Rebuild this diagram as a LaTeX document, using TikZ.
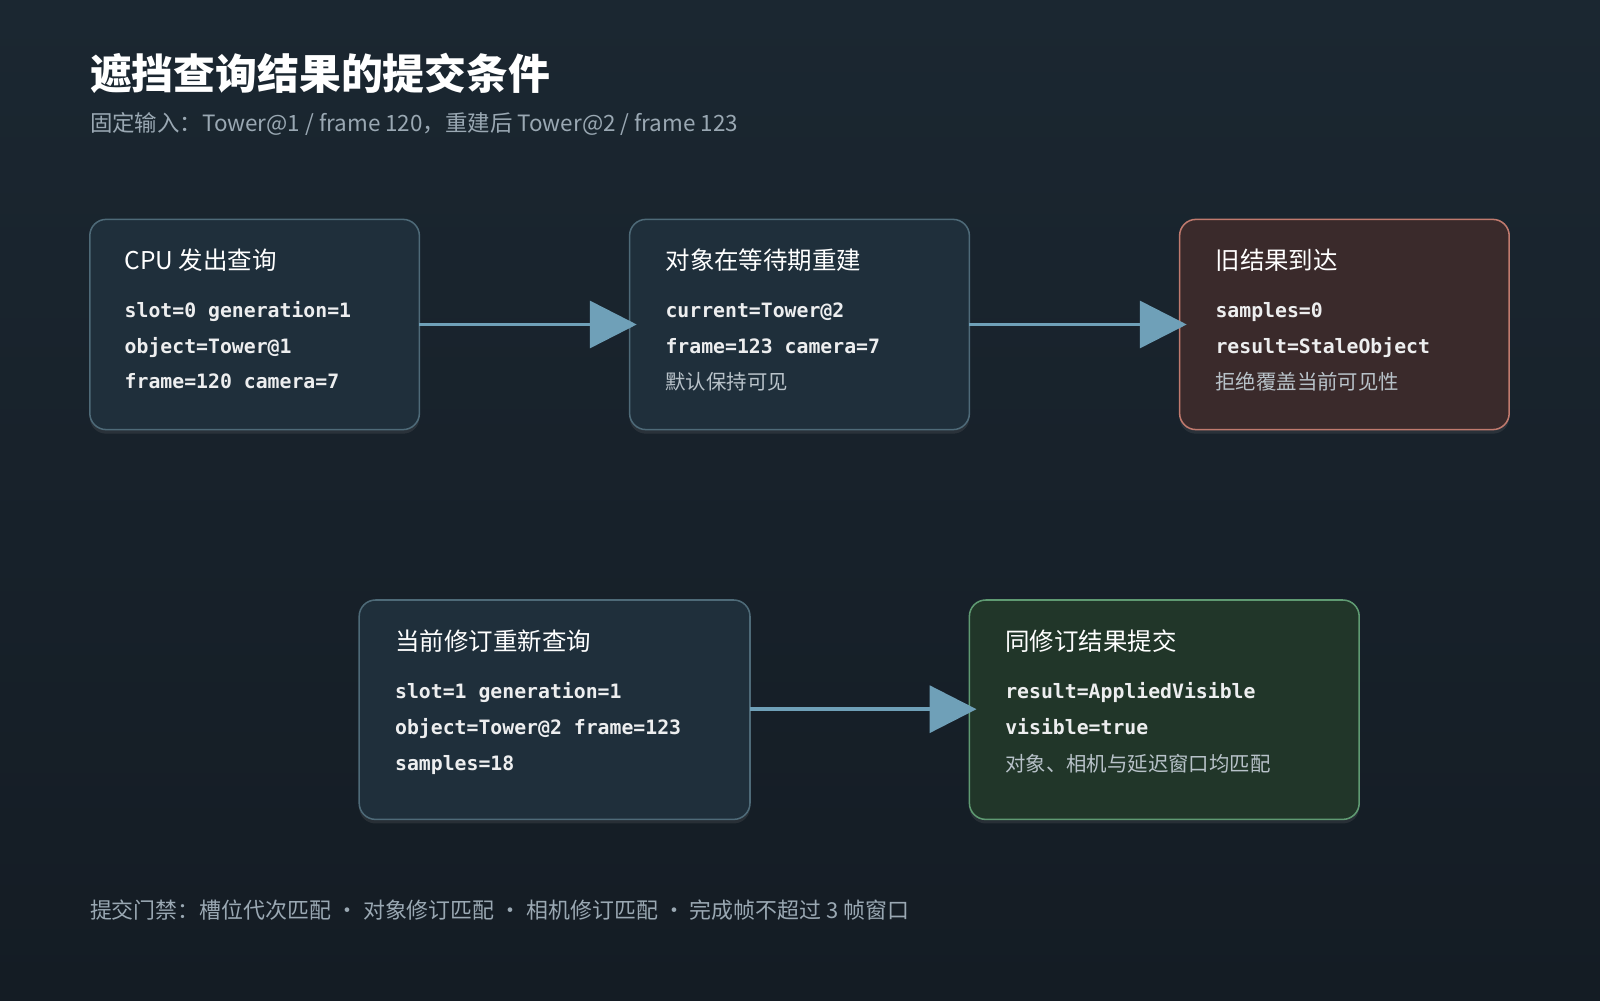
\documentclass[tikz,border=0pt]{standalone}
\usepackage{fontspec}
\setmainfont{Noto Sans CJK SC}
\setmonofont{DejaVu Sans Mono}
\usetikzlibrary{arrows.meta,shadows}
\definecolor{bgA}{HTML}{1B2731}
\definecolor{bgB}{HTML}{141C24}
\definecolor{boxf}{HTML}{1F2F3B}
\definecolor{boxd}{HTML}{4E6A78}
\definecolor{redf}{HTML}{3A2A2B}
\definecolor{redd}{HTML}{C07A6E}
\definecolor{grnf}{HTML}{213629}
\definecolor{grnd}{HTML}{5F9A72}
\definecolor{arr}{HTML}{6FA0B8}
\definecolor{sub}{HTML}{9AA8B3}
\definecolor{note}{HTML}{B8C2C9}
\begin{document}
\begin{tikzpicture}[x=1pt,y=-1pt,
  box/.style={draw=boxd,fill=boxf,line width=1.5pt,rounded corners=16pt,drop shadow={opacity=0.18,shadow xshift=0pt,shadow yshift=-4pt}},
  hd/.style={anchor=base west,inner sep=0pt,text=white,font=\fontsize{24}{28}\selectfont},
  cd/.style={anchor=base west,inner sep=0pt,text=white!92!boxf,font=\fontsize{19.4}{22}\selectfont\ttfamily\bfseries},
  nt/.style={anchor=base west,inner sep=0pt,text=note,font=\fontsize{20}{24}\selectfont},
  ar/.style={draw=arr,line width=3.5pt,-{Triangle[width=46pt,length=46pt]}}]
\useasboundingbox (0,0) rectangle (1568,980);
\shade[top color=bgA,bottom color=bgB] (0,0) rectangle (1568,980);
\node[anchor=base west,inner sep=0pt,text=white,font=\fontsize{41}{48}\selectfont\bfseries] (t) at (88,88) {遮挡查询结果的提交条件};
\node[anchor=base west,inner sep=0pt,text=sub,font=\fontsize{22}{26}\selectfont] (s) at (88,129) {固定输入：Tower@1 / frame 120，重建后 Tower@2 / frame 123};
\path[box] (88,215) rectangle (411,421);
\node[hd] (h1) at (122,264) {CPU 发出查询};
\node[cd] (c11) at (122,311) {slot=0 generation=1};
\node[cd] (c12) at (122,346) {object=Tower@1};
\node[cd] (c13) at (122,381) {frame=120 camera=7};
\path[box] (617,215) rectangle (950,421);
\node[hd] (h2) at (652,264) {对象在等待期重建};
\node[cd] (c21) at (652,311) {current=Tower@2};
\node[cd] (c22) at (652,346) {frame=123 camera=7};
\node[nt] (c23) at (652,382) {默认保持可见};
\path[box,draw=redd,fill=redf] (1156,215) rectangle (1479,421);
\node[hd] (h3) at (1191,264) {旧结果到达};
\node[cd] (c31) at (1191,311) {samples=0};
\node[cd] (c32) at (1191,346) {result=StaleObject};
\node[nt] (c33) at (1191,382) {拒绝覆盖当前可见性};
\path[box] (352,588) rectangle (735,803);
\node[hd] (h4) at (387,637) {当前修订重新查询};
\node[cd] (c41) at (387,685) {slot=1 generation=1};
\node[cd] (c42) at (387,720) {object=Tower@2 frame=123};
\node[cd] (c43) at (387,755) {samples=18};
\path[box,draw=grnd,fill=grnf] (950,588) rectangle (1332,803);
\node[hd] (h5) at (985,637) {同修订结果提交};
\node[cd] (c51) at (985,685) {result=AppliedVisible};
\node[cd] (c52) at (985,720) {visible=true};
\node[nt] (c53) at (985,756) {对象、相机与延迟窗口均匹配};
\coordinate (a1s) at (411,318); \coordinate (a1e) at (624,318);
\coordinate (a2s) at (950,318); \coordinate (a2e) at (1163,318);
\coordinate (a3s) at (735,695); \coordinate (a3e) at (957,695);
\draw[ar] (a1s) -- (a1e);
\draw[ar] (a2s) -- (a2e);
\draw[ar] (a3s) -- (a3e);
\node[anchor=base west,inner sep=0pt,text=sub,font=\fontsize{21.5}{25}\selectfont] (f) at (88,900) {提交门禁：槽位代次匹配 · 对象修订匹配 · 相机修订匹配 · 完成帧不超过 3 帧窗口};
\end{tikzpicture}
\end{document}
